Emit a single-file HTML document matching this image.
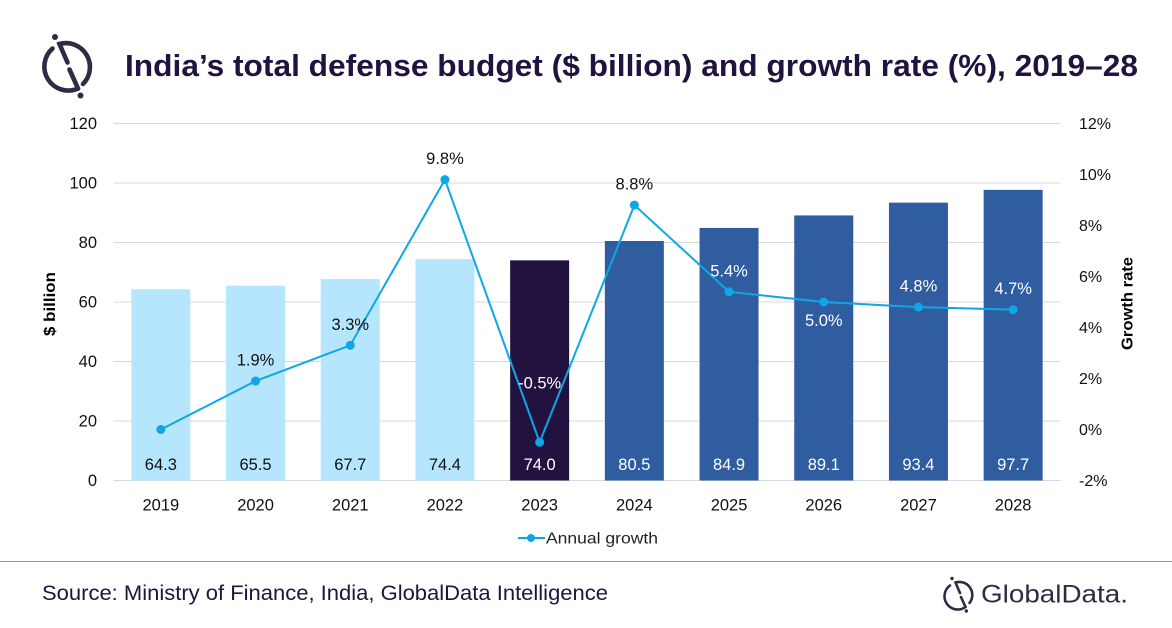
<!DOCTYPE html>
<html lang="en">
<head>
<meta charset="utf-8">
<title>India's total defense budget</title>
<style>
html,body{margin:0;padding:0;background:#fff;width:1172px;height:628px;overflow:hidden}
svg{display:block}
text{font-family:"Liberation Sans","DejaVu Sans",sans-serif}
</style>
</head>
<body>
<svg id="chart" width="1172" height="628" viewBox="0 0 1172 628" xmlns="http://www.w3.org/2000/svg">
  <g fill="none" stroke="#2f2b45" stroke-width="4.6" stroke-linecap="round">
    <path d="M 52.5 48.5 A 24 24 0 0 0 78 88.5"/>
    <path d="M 83 84 A 24 24 0 0 0 59.5 44 L 67.5 62.5"/>
    <path d="M 69.5 69.5 L 78 88.5"/>
    <circle cx="55" cy="37" r="3" fill="#2f2b45" stroke="none"/>
    <circle cx="80.5" cy="95.5" r="3" fill="#2f2b45" stroke="none"/>
  </g>
  <text x="125" y="76" font-size="31" font-weight="bold" fill="#21123f" textLength="1013" lengthAdjust="spacingAndGlyphs">India’s total defense budget ($ billion) and growth rate (%), 2019–28</text>
  <g id="grid"></g>
  <g id="bars"></g>
  <g id="axes"></g>
  <g id="line"></g>
  <g id="labels"></g>
  <text transform="translate(55 304) rotate(-90)" text-anchor="middle" font-size="15.5" font-weight="bold" fill="#000" textLength="64" lengthAdjust="spacingAndGlyphs">$ billion</text>
  <text transform="translate(1132.5 303.5) rotate(-90)" text-anchor="middle" font-size="15.5" font-weight="bold" fill="#000" textLength="93" lengthAdjust="spacingAndGlyphs">Growth rate</text>
  <g>
    <line x1="518" y1="538" x2="545" y2="538" stroke="#0ea7e6" stroke-width="2"/>
    <circle cx="531" cy="538" r="4" fill="#0ea7e6"/>
    <text x="546" y="543.5" font-size="16" fill="#222" textLength="112" lengthAdjust="spacingAndGlyphs">Annual growth</text>
  </g>
  <line x1="0" y1="561.5" x2="1172" y2="561.5" stroke="#999" stroke-width="1"/>
  <text x="42" y="600" font-size="21" fill="#21123f" textLength="566" lengthAdjust="spacingAndGlyphs">Source: Ministry of Finance, India, GlobalData Intelligence</text>
  <g>
    <g fill="none" stroke="#2f2b45" stroke-width="2.6" stroke-linecap="round">
      <path d="M 950 585.5 A 13 13 0 0 0 965.5 607"/>
      <path d="M 969.5 603 A 13 13 0 0 0 955.5 582.5 L 960 593"/>
      <path d="M 961 597 L 965.5 607"/>
      <circle cx="952" cy="578.5" r="1.7" fill="#2f2b45" stroke="none"/>
      <circle cx="966.3" cy="611" r="1.7" fill="#2f2b45" stroke="none"/>
    </g>
    <text x="981" y="602.5" font-size="25" fill="#2f2b45" textLength="147" lengthAdjust="spacingAndGlyphs">GlobalData.</text>
  </g>
</svg>
<script>
const years = ['2019','2020','2021','2022','2023','2024','2025','2026','2027','2028'];
const budget = [64.3,65.5,67.7,74.4,74.0,80.5,84.9,89.1,93.4,97.7];
const growth = [0.0,1.9,3.3,9.8,-0.5,8.8,5.4,5.0,4.8,4.7];
const growthLabels = ['','1.9%','3.3%','9.8%','-0.5%','8.8%','5.4%','5.0%','4.8%','4.7%'];
const leftTicks = [0,20,40,60,80,100,120];
const rightTicks = [-2,0,2,4,6,8,10,12];

const NS = 'http://www.w3.org/2000/svg';
const plotLeft = 113.5, plotRight = 1060.5, plotTop = 123.5, plotBottom = 480.5;
const yLeft = v => plotBottom - (v / 120) * (plotBottom - plotTop);
const yRight = v => plotBottom - ((v + 2) / 14) * (plotBottom - plotTop);
const band = (plotRight - plotLeft) / years.length;
const xPos = i => plotLeft + band * (i + 0.5);
const barWidth = 59;

function mk(parent, tag, attrs, txt) {
  const el = document.createElementNS(NS, tag);
  for (const k in attrs) el.setAttribute(k, attrs[k]);
  if (txt !== undefined) el.textContent = txt;
  document.getElementById(parent).appendChild(el);
  return el;
}
function barColor(i) {
  if (i < 4) return '#b5e6fe';
  if (i === 4) return '#21123f';
  return '#305ca0';
}

leftTicks.forEach(t => {
  const gl = mk('grid', 'line', {x1: plotLeft, x2: plotRight, y1: yLeft(t), y2: yLeft(t), stroke: '#d9d9d9', 'stroke-width': 1});
  
  
  const tl = mk('axes', 'text', {x: 97, y: yLeft(t) + 5.5, 'text-anchor': 'end', 'font-size': 16.5, fill: '#111'}, String(t));
  
  
});
rightTicks.forEach(t => {
  const tl = mk('axes', 'text', {x: 1079, y: yRight(t) + 5.5, 'font-size': 16, fill: '#111'}, t + '%');
  
  
});

years.forEach((yr, i) => {
  const b = mk('bars', 'rect', {x: xPos(i) - barWidth / 2, y: yLeft(budget[i]), width: barWidth, height: plotBottom - yLeft(budget[i]), fill: barColor(i)});
  
  
  const xl = mk('axes', 'text', {x: xPos(i), y: 510.5, 'text-anchor': 'middle', 'font-size': 16.5, fill: '#111'}, yr);
  
  
  const vl = mk('labels', 'text', {x: xPos(i), y: 470, 'text-anchor': 'middle', 'font-size': 16.5, fill: i < 4 ? '#111' : '#fff'}, budget[i].toFixed(1));
  
  
});

const pts = growth.map((g, i) => xPos(i) + ',' + yRight(g)).join(' ');
const pl = mk('line', 'polyline', {points: pts, fill: 'none', stroke: '#0ea7e6', 'stroke-width': 2});


growth.forEach((g, i) => {
  const c = mk('line', 'circle', {cx: xPos(i), cy: yRight(g), r: 4.5, fill: '#0ea7e6'});
  
  
  if (!growthLabels[i]) return;
  let dy = -15.5;
  if (i === 4) dy = -54;
  if (i === 7) dy = 24;
  const t = mk('labels', 'text', {x: xPos(i), y: yRight(g) + dy, 'text-anchor': 'middle', 'font-size': 16.5, fill: i >= 6 || i === 4 ? '#fff' : '#111'}, growthLabels[i]);
  
  
});
</script>
</body>
</html>
